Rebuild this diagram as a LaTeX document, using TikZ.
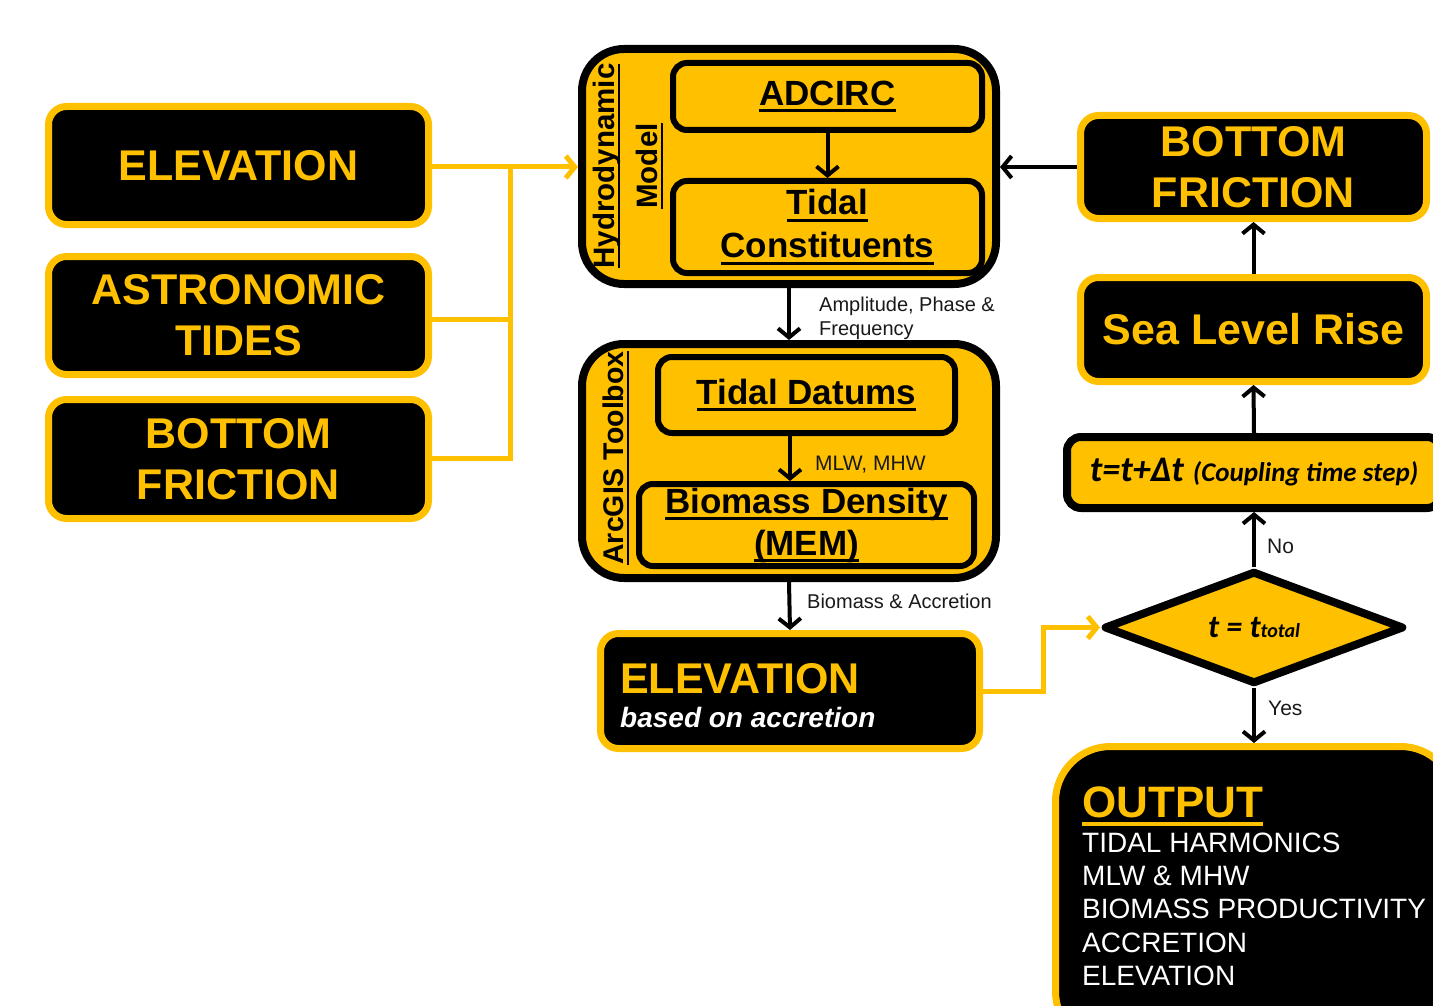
\documentclass[tikz,border=0pt]{standalone}
\usepackage{fontspec}
\setmainfont{Liberation Sans}
\newfontfamily\carl{Carlito}
\usetikzlibrary{arrows.meta,shapes.geometric}
\definecolor{yel}{HTML}{FFC000}
\newcommand\fsz[2]{\fontsize{#1}{#2}\selectfont}
\newsavebox\myulbox
\newcommand\myul[1]{\sbox\myulbox{#1}\leavevmode\rlap{\vrule height -0.12em depth 0.2em width \wd\myulbox}\usebox\myulbox}
\begin{document}
\begin{tikzpicture}[x=1pt,y=-1pt,
  bbox/.style={rectangle, rounded corners=18pt, fill=black, draw=yel, line width=7pt, text=yel, font=\fsz{43}{51}\bfseries, align=center, inner sep=0pt},
  ybox/.style={rectangle, rounded corners=14pt, fill=yel, draw=black, line width=6pt, text=black, font=\fsz{35}{43}\bfseries, align=center, inner sep=0pt},
  cont/.style={rectangle, rounded corners=42pt, fill=yel, draw=black, line width=8pt},
  barrow/.style={draw=black, line width=4pt, -{Straight Barb[length=9pt,width=22pt]}},
  yarrow/.style={draw=yel, line width=5pt, -{Straight Barb[length=9pt,width=22pt]}},
  yline/.style={draw=yel, line width=5pt},
  lab/.style={font=\fsz{20}{24}, text=black!90, inner sep=0pt, align=left}
]
\useasboundingbox (0,0) rectangle (1433,1006);
\clip (0,0) rectangle (1433,1006);

% left inputs
\node[bbox, minimum width=380, minimum height=118] (elev) at (238.5,165.5) {ELEVATION};
\node[bbox, minimum width=380, minimum height=118] (astro) at (238.5,315.5) {ASTRONOMIC\\TIDES};
\node[bbox, minimum width=380, minimum height=119] (bfl) at (238.5,459) {BOTTOM\\FRICTION};

% hydrodynamic model
\node[cont, minimum width=414, minimum height=235] (hydro) at (789,166.5) {};
\node[rotate=90, font=\fsz{29.5}{43}\bfseries, align=center, inner sep=0pt] (hlab) at (628,166) {\myul{Hydrodynamic}\\\myul{Model}};
\node[ybox, minimum width=309, minimum height=67] (adc) at (827.5,96.5) {\myul{ADCIRC}};
\node[ybox, minimum width=309, minimum height=92] (tc) at (827.5,227) {\myul{Tidal}\\\myul{Constituents}};

% ArcGIS toolbox
\node[cont, minimum width=414, minimum height=234] (arc) at (789,461) {};
\node[rotate=90, font=\fsz{28.5}{36}\bfseries, inner sep=0pt] (alab) at (616,458) {\myul{ArcGIS Toolbox}};
\node[ybox, minimum width=297, minimum height=76] (td) at (806.5,395) {\myul{Tidal Datums}};
\node[ybox, minimum width=335, minimum height=82, font=\fsz{35}{42}\bfseries] (bd) at (806.5,525) {\myul{Biomass Density}\\\myul{(MEM)}};

% elevation based on accretion
\node[bbox, minimum width=379, minimum height=115] (ea) at (790,691) {};
\node[anchor=base west, font=\fsz{43}{43}\bfseries, text=yel, inner sep=0pt] (eat) at (620,693) {ELEVATION};
\node[anchor=base west, font=\fsz{28}{28}\bfseries\itshape, text=white, inner sep=0pt] (eas) at (620,727) {based on accretion};

% decision
\node[diamond, draw=black, fill=yel, line width=8pt, line join=round, minimum width=300, minimum height=113, inner sep=0pt, font=\carl\bfseries\itshape] (dia) at (1254,627.5) {{\fsz{32}{32}t = t}{\fsz{20}{20}total}};

% right column
\node[rectangle, rounded corners=14pt, fill=yel, draw=black, line width=8pt, minimum width=374, minimum height=71, inner sep=0pt, font=\carl\bfseries\itshape] (tb) at (1254,472.5) {{\fsz{36}{36}t=t+Δt}\hspace{9pt}{\fsz{27}{27}(Coupling time step)}};
\node[bbox, minimum width=346, minimum height=104] (slr) at (1253.5,329.5) {Sea Level Rise};
\node[bbox, minimum width=346, minimum height=103] (bfr) at (1253.5,167) {BOTTOM\\FRICTION};

% output
\node[rectangle, rounded corners=55pt, fill=black, draw=yel, line width=7pt, minimum width=400, minimum height=300, anchor=north west] (out) at (1052,743) {};
\node[anchor=base west, font=\fsz{44}{44}\bfseries, text=yel, inner sep=0pt] (ot) at (1082,817) {\myul{OUTPUT}};
\node[anchor=base west, font=\fsz{28}{28}, text=white, inner sep=0pt] (o1) at (1082,852) {TIDAL HARMONICS};
\node[anchor=base west, font=\fsz{28}{28}, text=white, inner sep=0pt] (o2) at (1082,885) {MLW \& MHW};
\node[anchor=base west, font=\fsz{28}{28}, text=white, inner sep=0pt] (o3) at (1082,918) {BIOMASS PRODUCTIVITY};
\node[anchor=base west, font=\fsz{28}{28}, text=white, inner sep=0pt] (o4) at (1082,952) {ACCRETION};
\node[anchor=base west, font=\fsz{28}{28}, text=white, inner sep=0pt] (o5) at (1082,985) {ELEVATION};

% yellow connectors
\coordinate (j) at (510,167);
\draw[yarrow] (elev.east |- j) -- (j -| hydro.west);
\draw[yline] (astro.east |- 0,319) -- (j |- 0,319);
\draw[yline] (bfl.east |- 0,458) -| (j);
\draw[yarrow] (ea.east) -- ++(60,0) |- (dia.west);

% black arrows
\draw[barrow] (adc.south) -- (tc.north);
\draw[barrow] (hydro.south) -- (arc.north);
\draw[barrow] ([xshift=-16.5pt]td.south) -- ([xshift=-16.5pt]td.south |- bd.north);
\draw[barrow] (arc.south) -- (ea.north);
\draw[barrow] (dia.north) -- (tb.south);
\draw[barrow] (tb.north) -- (slr.south);
\draw[barrow] (slr.north) -- (bfr.south);
\draw[barrow] (bfr.west) -- (bfr.west -| hydro.east);
\draw[barrow] (dia.south) -- (dia.south |- out.north);

% labels
\node[lab, anchor=north west] (l1) at (819,297) {Amplitude, Phase \&\\Frequency};
\node[lab, anchor=base west, font=\fsz{21}{24}] (l2) at (815,470) {MLW, MHW};
\node[lab, anchor=base west] (l3) at (807,608) {Biomass \& Accretion};
\node[lab, anchor=base west, font=\fsz{21}{24}] (l4) at (1267,553) {No};
\node[lab, anchor=base west, font=\fsz{21}{24}] (l5) at (1268,715) {Yes};
\end{tikzpicture}
\end{document}
